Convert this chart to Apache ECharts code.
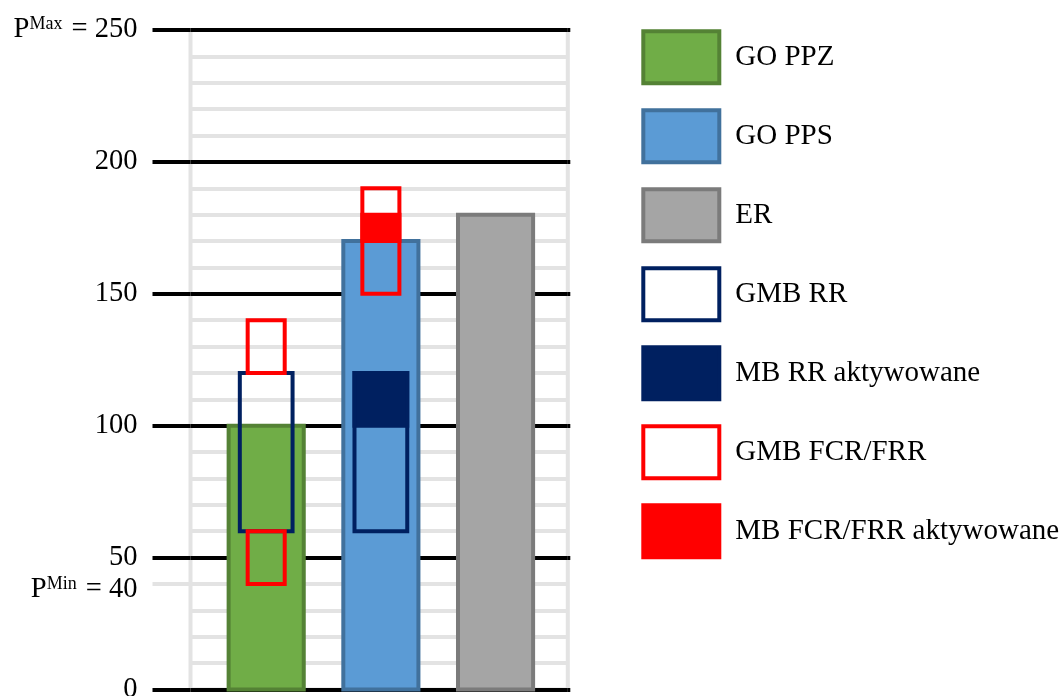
<!DOCTYPE html>
<html>
<head>
<meta charset="utf-8">
<title>GO / GMB / MB</title>
<script src="https://cdn.jsdelivr.net/npm/echarts@6/dist/echarts.min.js"></script>
<style>
  html, body { margin: 0; padding: 0; background: #ffffff; }
  #chart { width: 1062px; height: 696px; }
</style>
</head>
<body>
<div id="chart"></div>
<script>
// Units on the x axis (drawn at positions 0, 1, 2)
const categories = ['GO PPZ', 'GO PPS', 'ER'];

// Power ranges as [unit index, from, to]
const goPPZ = [[0, 0, 100]];
const goPPS = [[1, 0, 170]];
const er = [[2, 0, 180]];
const gmbRR = [[0, 60, 120], [1, 60, 120]];
const mbRR = [[1, 100, 120]];
const gmbFCR = [[0, 120, 140], [0, 40, 60], [1, 150, 190]];
const mbFCR = [[1, 170, 180]];

// Power axis
const yMin = 0;
const yMax = 250;
const majorStep = 50;
const majorTicks = [0, 50, 100, 150, 200, 250];
const pMax = 250;
const pMin = 40;

const FONT = '"Liberation Serif", "Times New Roman", serif';
const GRID_GREY = '#E3E3E3';
const NAVY = '#002060';
const RED = '#FF0000';

const styles = {
  'GO PPZ': { fill: '#70AD47', stroke: '#548235' },
  'GO PPS': { fill: '#5B9BD5', stroke: '#41719C' },
  'ER': { fill: '#A5A5A5', stroke: '#7B7B7B' },
  'GMB RR': { fill: 'none', stroke: NAVY, legendFill: '#FFFFFF' },
  'MB RR aktywowane': { fill: NAVY, stroke: NAVY },
  'GMB FCR/FRR': { fill: 'none', stroke: RED, legendFill: '#FFFFFF' },
  'MB FCR/FRR aktywowane': { fill: RED, stroke: RED }
};

// Draws a box spanning [from, to] centred on the unit position; width is a share of one unit step
function boxRenderer(widthShare, st) {
  return function (params, api) {
    const x = api.value(0);
    const top = api.coord([x, api.value(2)]);
    const bottom = api.coord([x, api.value(1)]);
    const w = api.size([1, 0])[0] * widthShare;
    return {
      type: 'rect',
      shape: { x: top[0] - w / 2, y: top[1], width: w, height: bottom[1] - top[1] },
      style: { fill: st.fill, stroke: st.stroke, lineWidth: 4 }
    };
  };
}

function boxSeries(name, data, widthShare, z) {
  return {
    type: 'custom',
    name: name,
    data: data,
    z: z,
    encode: { x: 0, y: [1, 2] },
    renderItem: boxRenderer(widthShare, styles[name])
  };
}

function axisLabel(v) {
  if (v === pMax) return '{t|P}{s|Max}{t| = ' + v + '}';
  if (v === pMin) return '{t|P}{s|Min}{t| = ' + v + '}';
  return '{t|' + v + '}';
}
const labelRich = {
  t: { fontFamily: FONT, fontSize: 28.5, color: '#000' },
  s: { fontFamily: FONT, fontSize: 18, color: '#000', verticalAlign: 'top', padding: [0, 2, 0, 0] }
};

const legendNames = ['GO PPZ', 'GO PPS', 'ER', 'GMB RR', 'MB RR aktywowane', 'GMB FCR/FRR', 'MB FCR/FRR aktywowane'];

const chart = echarts.init(document.getElementById('chart'), null, { renderer: 'canvas' });
chart.setOption({
  animation: false,
  backgroundColor: '#ffffff',
  grid: {
    left: 190.5, right: 494.2, top: 30, bottom: 6.5,
    outerBoundsMode: 'none',
    containLabel: false,
    show: true, borderColor: GRID_GREY, borderWidth: 4, backgroundColor: 'transparent'
  },
  xAxis: {
    type: 'value', min: -0.66, max: 2.63,
    axisLine: { show: false, onZero: false }, axisTick: { show: false }, axisLabel: { show: false }, splitLine: { show: false }
  },
  yAxis: [
    {
      type: 'value', min: yMin, max: yMax, interval: majorStep, position: 'left',
      axisLine: { show: false, onZero: false },
      axisTick: { show: true, inside: false, length: 38, customValues: majorTicks, lineStyle: { color: '#000', width: 4 } },
      axisLabel: { margin: 53, formatter: axisLabel, rich: labelRich },
      splitLine: { show: true, lineStyle: { color: '#000', width: 4 } },
      minorTick: { show: false, splitNumber: 5 },
      minorSplitLine: { show: true, lineStyle: { color: GRID_GREY, width: 4 } }
    },
    {
      type: 'value', min: yMin, max: yMax, interval: majorStep, position: 'left',
      axisLine: { show: false, onZero: false },
      axisTick: { show: true, inside: false, length: 38, customValues: [pMin], lineStyle: { color: GRID_GREY, width: 4 } },
      axisLabel: { margin: 53, customValues: [pMin], formatter: axisLabel, rich: labelRich, padding: [12, 0, 0, 0] },
      splitLine: { show: false }
    },
    {
      type: 'value', min: yMin, max: yMax, interval: majorStep, position: 'right',
      axisLine: { show: false, onZero: false },
      axisTick: { show: true, inside: false, length: 2.5, customValues: majorTicks, lineStyle: { color: '#000', width: 4 } },
      axisLabel: { show: false },
      splitLine: { show: false }
    }
  ],
  legend: {
    orient: 'vertical',
    left: 641.3, top: 29.3,
    padding: 0,
    itemWidth: 76, itemHeight: 52, itemGap: 23,
    selectedMode: false,
    textStyle: { fontFamily: FONT, fontSize: 29, color: '#000', padding: [0, 0, 0, 11] },
    data: legendNames.map(function (n) {
      const st = styles[n];
      return {
        name: n, icon: 'rect',
        itemStyle: { color: st.legendFill || st.fill, borderColor: st.stroke, borderWidth: 4 }
      };
    })
  },
  series: [
    boxSeries('GO PPZ', goPPZ, 0.655, 2),
    boxSeries('GO PPS', goPPS, 0.655, 2),
    boxSeries('ER', er, 0.655, 2),
    boxSeries('MB RR aktywowane', mbRR, 0.46, 3),
    boxSeries('GMB RR', gmbRR, 0.46, 4),
    boxSeries('MB FCR/FRR aktywowane', mbFCR, 0.323, 5),
    boxSeries('GMB FCR/FRR', gmbFCR, 0.323, 6)
  ]
});
</script>
</body>
</html>
